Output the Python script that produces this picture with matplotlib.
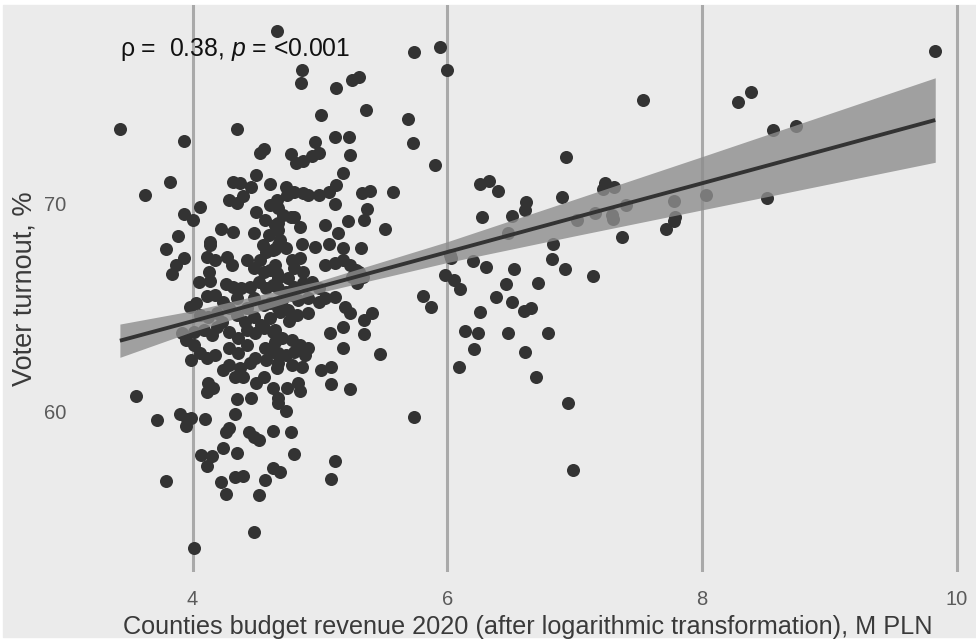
import matplotlib.pyplot as plt
from matplotlib.patches import Rectangle

plt.rcParams['font.family'] = ['Liberation Sans', 'DejaVu Sans']
plt.rcParams['mathtext.fontset'] = 'custom'
plt.rcParams['mathtext.rm'] = 'Liberation Sans'
plt.rcParams['mathtext.it'] = 'Liberation Sans:italic'

# county budget revenue 2020 (log, M PLN) and voter turnout (%)
revenue = [
    3.43, 3.63, 3.56, 3.72, 3.79, 4.01, 3.93, 3.82, 4.06, 3.93, 4.00, 3.89, 3.79,
    4.35, 4.66, 4.86, 4.85, 5.13, 5.25, 5.31, 5.36, 5.01,
    4.53, 4.56, 4.50, 4.32, 4.37, 4.46, 4.61, 4.29, 4.35, 4.40, 4.50, 4.61, 4.66,
    4.22, 4.32, 4.14, 4.48, 4.57, 4.65, 4.60, 4.67, 4.55,
    4.96, 5.12, 5.23, 5.24, 4.77, 4.81, 4.87, 4.94, 4.99, 5.18, 5.13,
    4.73, 4.74, 4.80, 4.87, 4.91, 4.99, 5.07, 5.33, 5.39, 5.57, 5.12,
    4.67, 4.71, 4.77, 4.80, 5.37, 5.35, 5.22, 5.04, 4.84, 4.67, 4.67, 5.14, 5.51,
    4.86, 4.96, 5.07, 5.18, 5.32, 4.69,
    4.14, 4.11, 4.18, 4.27, 4.31, 3.93, 3.87, 3.84, 4.43, 4.48, 4.53, 4.58, 4.63,
    4.56, 4.61, 4.66, 4.13, 4.14, 4.05, 4.26, 4.32, 4.38, 4.18, 4.11,
    4.45, 4.52, 4.58, 4.63, 4.03, 3.98, 4.24, 4.29, 4.35,
    4.43, 4.48, 4.56, 4.61, 4.67, 4.06, 4.12, 4.19, 4.23,
    4.35, 4.41, 4.48, 4.54, 4.61, 3.92, 3.95, 4.01, 4.09, 4.15, 4.19,
    4.29, 4.36, 4.43, 4.49, 4.56, 4.63, 4.01, 4.06, 3.99, 4.11, 4.18,
    4.29, 4.36, 4.43, 4.49, 4.57, 4.63, 4.29, 4.37, 4.45, 4.58, 4.66,
    4.65, 4.73, 4.78, 4.84, 4.80, 4.87, 5.04, 5.12, 5.18, 5.24, 5.28, 5.31,
    4.65, 4.67, 4.75, 5.25, 5.29, 5.34, 4.67, 4.73, 4.80, 4.87, 4.94, 4.99,
    4.70, 4.78, 4.83, 4.91, 4.99, 5.04, 5.12, 5.20, 5.24, 4.91,
    4.69, 4.75, 4.82, 5.41, 5.35, 4.76, 5.18, 5.08, 5.35,
    4.65, 4.70, 4.78, 4.84, 4.91, 4.65, 4.67, 4.73, 4.80, 4.88, 5.18, 5.47,
    4.67, 4.78, 4.86, 5.01, 5.09,
    3.90, 3.96, 3.95, 3.99, 4.10, 4.48, 4.12, 4.11, 4.16, 4.35, 4.33, 4.40, 4.24,
    4.50, 4.56, 4.46, 4.63, 4.67, 4.33, 4.29, 4.26, 4.44, 4.48, 4.52, 4.63,
    4.24, 4.35, 4.07, 4.15, 4.11, 4.22, 4.26, 4.33, 4.40, 4.57, 4.52, 4.63,
    5.09, 5.24, 4.74, 4.83, 4.84, 4.73, 4.67, 4.77, 4.80, 4.69, 5.12, 5.09,
    5.90, 6.26, 6.33, 6.40, 6.90, 6.27, 6.51, 6.61, 6.62, 6.48, 7.02, 6.83, 6.82,
    6.92, 6.02, 6.03, 6.20, 6.30, 6.52, 5.98, 6.05, 6.10, 6.46, 6.71, 5.81, 5.87,
    6.38, 6.51, 6.60, 6.66, 6.26, 6.14, 6.24, 6.48, 6.79, 6.21, 6.61, 6.09, 6.70,
    6.95, 5.74, 5.94, 6.00, 5.69, 5.73, 7.54, 8.28, 8.38, 8.56, 8.74, 9.83, 6.93,
    7.22, 7.24, 7.31, 7.40, 7.16, 7.29, 7.30, 7.78, 7.79, 7.78, 7.72, 8.03, 8.51,
    7.37, 7.14, 5.74, 6.99,
]
turnout = [
    73.56, 70.38, 60.72, 59.57, 56.65, 53.40, 73.00, 71.01, 69.82, 69.47, 69.18, 68.41, 67.79,
    73.54, 78.27, 76.39, 75.77, 75.53, 75.91, 76.06, 74.47, 74.23,
    72.39, 72.58, 71.35, 71.01, 70.96, 70.78, 70.91, 70.14, 69.98, 70.34, 69.58, 69.90, 70.14,
    68.74, 68.61, 68.11, 68.54, 69.18, 68.94, 68.46, 67.98, 67.98,
    72.95, 73.16, 73.16, 72.31, 72.34, 71.94, 72.03, 72.26, 72.42, 71.46, 70.87,
    70.78, 70.38, 70.54, 70.47, 70.38, 70.38, 70.54, 70.50, 70.59, 70.54, 69.95,
    69.75, 69.42, 69.34, 69.34, 69.70, 69.18, 69.15, 68.94, 68.83, 69.02, 68.70, 68.57, 68.74,
    68.03, 67.90, 68.03, 67.82, 67.85, 68.22,
    67.98, 67.42, 67.26, 67.42, 67.02, 67.34, 67.02, 66.57, 67.26, 66.86, 67.26, 67.66, 67.74,
    66.70, 66.78, 66.62, 66.70, 66.25, 66.19, 66.09, 65.98, 65.93, 65.58, 65.54,
    65.98, 66.22, 65.90, 66.06, 65.18, 65.01, 65.25, 64.94, 65.42,
    64.94, 65.42, 65.10, 65.18, 64.94, 64.62, 64.53, 64.70, 64.29,
    64.62, 64.29, 64.53, 64.13, 64.46, 63.74, 63.41, 63.81, 63.89, 63.65, 64.05,
    63.81, 63.50, 63.89, 63.74, 63.98, 63.81, 63.17, 62.77, 62.45, 62.53, 62.69,
    63.01, 62.77, 63.17, 62.53, 63.01, 62.85, 62.21, 62.05, 62.29, 62.45, 62.05,
    67.79, 67.84, 67.26, 67.34, 66.86, 66.70, 67.02, 67.10, 67.26, 67.02, 66.78, 66.70,
    67.02, 66.38, 66.38, 66.46, 66.14, 66.46, 65.90, 65.74, 65.98, 66.14, 66.22, 65.90,
    65.34, 65.58, 65.34, 65.42, 65.25, 65.42, 65.50, 65.01, 64.70, 64.70,
    64.77, 64.86, 64.62, 64.70, 64.38, 64.33, 64.05, 63.74, 63.69,
    63.89, 63.50, 63.41, 63.17, 63.01, 63.33, 62.77, 62.69, 62.85, 62.69, 63.01, 62.73,
    62.29, 62.21, 62.13, 61.97, 62.13,
    59.86, 59.60, 59.28, 59.65, 59.62, 54.17, 61.33, 60.93, 61.09, 60.56, 61.65, 61.65, 61.97,
    61.33, 61.65, 60.61, 61.09, 60.61, 59.84, 59.17, 58.98, 58.98, 58.76, 58.61, 59.05,
    58.24, 57.97, 57.88, 57.84, 57.36, 56.57, 56.01, 56.84, 56.88, 56.68, 55.96, 57.25,
    61.30, 61.06, 61.09, 61.33, 60.98, 60.01, 60.37, 59.00, 57.93, 57.08, 57.60, 56.72,
    71.83, 70.91, 71.07, 70.59, 70.27, 69.34, 69.38, 69.66, 70.06, 68.54, 69.18, 68.03, 67.31,
    66.81, 67.50, 67.34, 67.23, 66.94, 66.83, 66.54, 66.30, 65.87, 66.09, 66.14, 65.54, 65.01,
    65.50, 65.25, 64.82, 64.97, 64.75, 63.85, 63.76, 63.76, 63.73, 62.98, 62.85, 62.10, 61.62,
    60.40, 77.27, 77.48, 76.39, 74.02, 72.90, 74.95, 74.84, 75.35, 73.51, 73.70, 77.31, 72.20,
    70.66, 70.98, 70.77, 69.90, 69.50, 69.42, 69.22, 70.11, 69.31, 69.15, 68.75, 70.38, 70.23,
    68.35, 66.50, 59.73, 57.16,
]

# linear fit and its confidence band along the revenue axis
fit_x = [3.43, 4.0, 5.0, 6.0, 7.0, 8.0, 9.0, 9.83]
fit_y = [63.38, 64.32, 65.98, 67.64, 69.30, 70.95, 72.61, 73.99]
fit_lo = [62.58, 63.82, 65.70, 67.14, 68.42, 69.67, 70.92, 71.96]
fit_hi = [64.18, 64.82, 66.26, 68.14, 70.18, 72.23, 74.30, 76.02]

rho = 0.38
p_text = '<0.001'
xticks = [4, 6, 8, 10]
yticks = [60, 70]

bg = '#ebebeb'
fig = plt.figure(figsize=(9.76, 6.41), dpi=100, facecolor='white')
fig.patches.append(Rectangle((3 / 976, 4 / 641), 1, 1 - 9 / 641,
                             transform=fig.transFigure, color=bg, zorder=-10))

ax = fig.add_axes([79 / 976, 69 / 641, 897 / 976, 567 / 641])
ax.set_facecolor(bg)

ax.scatter(revenue, turnout, s=88, color='#333333', linewidths=0, zorder=2)
ax.fill_between(fit_x, fit_lo, fit_hi, color='#8d8d8d', alpha=0.8,
                linewidth=0, zorder=3)
ax.plot(fit_x, fit_y, color='#333333', lw=2.8, zorder=4, solid_capstyle='butt')

ax.text(3.43, 77.36, f'ρ =  {rho:.2f}, $p$ = {p_text}', fontsize=17.8,
        color='#111111', ha='left', va='center', zorder=5)

ax.set_xlim(3.109, 10.15)
ax.set_ylim(52.26, 79.52)
ax.set_xticks(xticks)
ax.set_yticks(yticks)
ax.xaxis.grid(True, color='#a9a9a9', lw=2.2)
ax.yaxis.grid(False)
ax.set_axisbelow(True)
for s in ax.spines.values():
    s.set_visible(False)
ax.tick_params(length=0, labelsize=14.5, labelcolor='#5a5a5a')
ax.tick_params(axis='x', pad=13)
ax.tick_params(axis='y', pad=9)

ax.set_xlabel('Counties budget revenue 2020 (after logarithmic transformation), M PLN',
              fontsize=18.2, color='#3a3a3a', labelpad=4)
ax.set_ylabel('Voter turnout, %', fontsize=19.5, color='#3a3a3a', labelpad=5)

fig.savefig('out.png', dpi=100, facecolor=fig.get_facecolor())
